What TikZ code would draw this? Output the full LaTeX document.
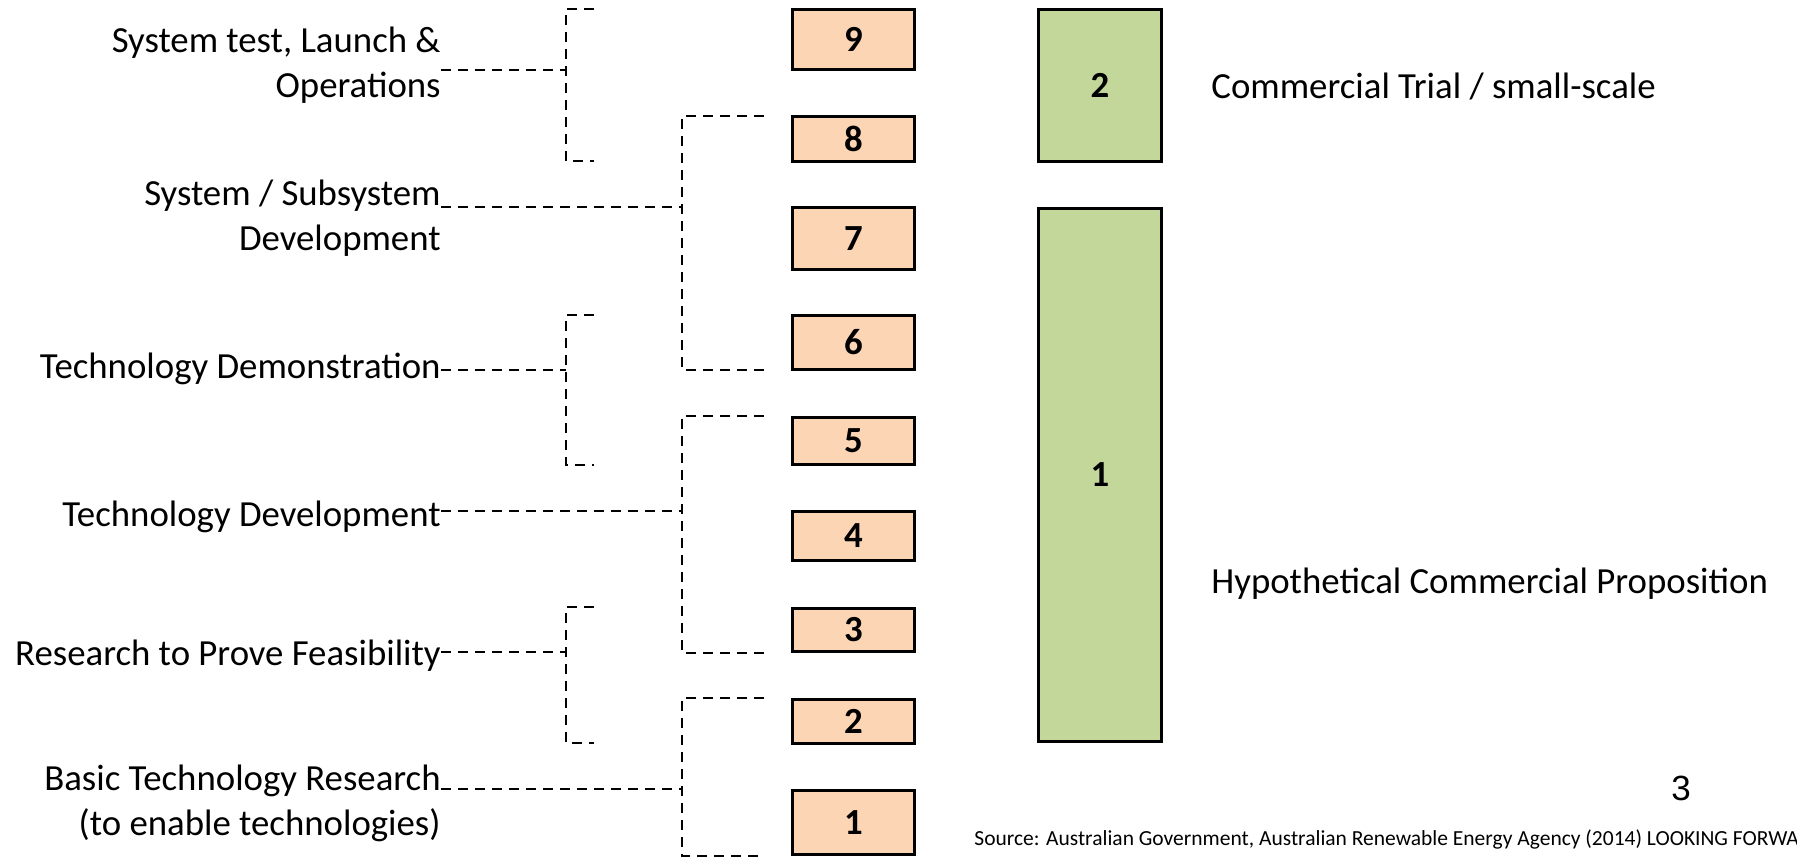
\documentclass[tikz,border=0pt]{standalone}
\usepackage{fontspec}
\setmainfont{Carlito}
\newfontfamily\arialfont{Liberation Sans}
\definecolor{orangefill}{RGB}{252,213,180}
\definecolor{greenfill}{RGB}{196,215,155}
\begin{document}
\begin{tikzpicture}[x=0.5pt,y=-0.5pt,
  txt/.style={font=\fontsize{18.4pt}{22.5pt}\selectfont, inner sep=0pt},
  lbl/.style={txt, align=right, anchor=base east},
  rlbl/.style={txt, anchor=base west},
  obox/.style={draw, line width=1.5pt, fill=orangefill, minimum width=61pt, inner sep=0pt,
    font=\fontsize{18.4pt}{22pt}\selectfont\bfseries},
  gbox/.style={draw, line width=1.5pt, fill=greenfill, minimum width=61.5pt, inner sep=0pt,
    font=\fontsize{18.4pt}{22pt}\selectfont\bfseries},
  dline/.style={line width=1.3pt, dash pattern=on 5pt off 3.5pt}]
\useasboundingbox (0,0) rectangle (1797,857);
\clip (0,0) rectangle (1797,857);

% orange TRL boxes
\node[obox, minimum height=30pt]   (b9) at (853.5,39.5)  {9};
\node[obox, minimum height=22.5pt] (b8) at (853.5,139)   {8};
\node[obox, minimum height=31pt]   (b7) at (853.5,238.5) {7};
\node[obox, minimum height=27pt]   (b6) at (853.5,342.5) {6};
\node[obox, minimum height=23.5pt] (b5) at (853.5,441)   {5};
\node[obox, minimum height=24.5pt] (b4) at (853.5,536)   {4};
\node[obox, minimum height=21.5pt] (b3) at (853.5,630)   {3};
\node[obox, minimum height=22pt]   (b2) at (853.5,721.5) {2};
\node[obox, minimum height=32pt]   (b1) at (853.5,822.5) {1};

% green CRI boxes
\node[gbox, minimum height=76pt]    (g2) at (1100,85.5) {2};
\node[gbox, minimum height=266.5pt] (g1) at (1100,475)  {1};

% right labels
\node[rlbl] (c2) at (1211,98)  {Commercial Trial / small-scale};
\node[rlbl] (c1) at (1211,593) {Hypothetical Commercial Proposition};
\node[inner sep=0pt, anchor=base, font=\arialfont\fontsize{17.5pt}{20pt}\selectfont] (pg) at (1681,800) {3};
\node[inner sep=0pt, anchor=base west, font=\fontsize{10.75pt}{12pt}\selectfont] (src) at (974,845)
  {Source: Australian Government, Australian Renewable Energy Agency (2014) LOOKING FORWA};

% left labels (base anchor = baseline of the last line)
\node[lbl] (t1) at (441,97)  {System test, Launch \&\\Operations};
\node[lbl] (t2) at (441,250) {System / Subsystem\\Development};
\node[lbl] (t3) at (441,378) {Technology Demonstration};
\node[lbl] (t4) at (441,526) {Technology Development};
\node[lbl] (t5) at (441,665) {Research to Prove Feasibility};
\node[lbl] (t6) at (441,835) {Basic Technology Research\\(to enable technologies)};

% bracket junctions
\coordinate (k1) at (566,70);
\coordinate (k2) at (682,207);
\coordinate (k3) at (566,370);
\coordinate (k4) at (682,511);
\coordinate (k5) at (566,652);
\coordinate (k6) at (682,789);

% brackets
\draw[dline] (594,9)   -| (566,161) -- (594,161);
\draw[dline] (764,116) -| (682,370) -- (764,370);
\draw[dline] (594,315) -| (566,465) -- (594,465);
\draw[dline] (764,416) -| (682,653) -- (764,653);
\draw[dline] (594,607) -| (566,743) -- (594,743);
\draw[dline] (764,698) -| (682,856) -- (764,856);

% connectors
\draw[dline] (t1.east |- k1) -- (k1);
\draw[dline] (t2.east |- k2) -- (k2);
\draw[dline] (t3.east |- k3) -- (k3);
\draw[dline] (t4.east |- k4) -- (k4);
\draw[dline] (t5.east |- k5) -- (k5);
\draw[dline] (t6.east |- k6) -- (k6);
\end{tikzpicture}
\end{document}
